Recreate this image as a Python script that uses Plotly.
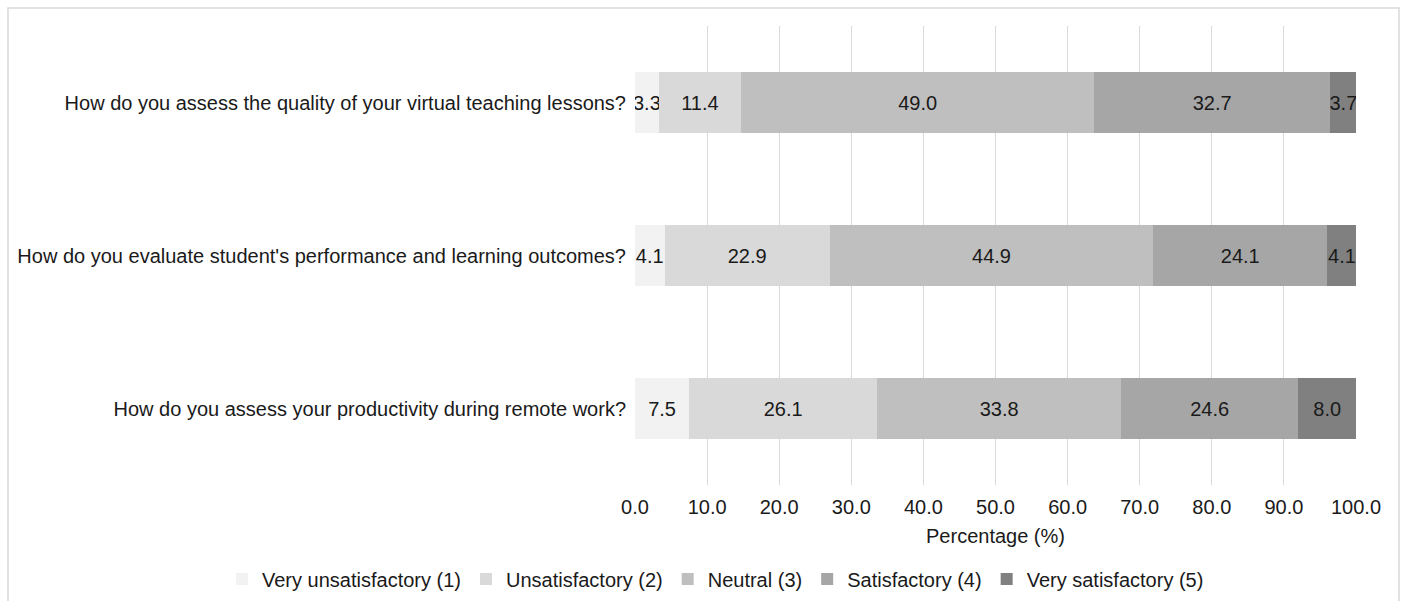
import plotly.graph_objects as go

questions = [
    "How do you assess the quality of your virtual teaching lessons?",
    "How do you evaluate student's performance and learning outcomes?",
    "How do you assess your productivity during remote work?",
]
series_names = [
    "Very unsatisfactory (1)",
    "Unsatisfactory (2)",
    "Neutral (3)",
    "Satisfactory (4)",
    "Very satisfactory (5)",
]
very_unsat = [3.3, 4.1, 7.5]
unsat = [11.4, 22.9, 26.1]
neutral = [49.0, 44.9, 33.8]
sat = [32.7, 24.1, 24.6]
very_sat = [3.7, 4.1, 8.0]
series_values = [very_unsat, unsat, neutral, sat, very_sat]
colors = ["#f2f2f2", "#d9d9d9", "#bfbfbf", "#a6a6a6", "#808080"]
x_ticks = [0, 10, 20, 30, 40, 50, 60, 70, 80, 90, 100]

FONT = "Liberation Sans, Arial, sans-serif"
FS = 20
TXT = "#1a1a1a"

fig = go.Figure()
for name, vals, col in zip(series_names, series_values, colors):
    fig.add_trace(go.Bar(
        y=questions, x=vals, name=name, orientation="h",
        marker=dict(color=col, line=dict(width=0)),
        text=[f"{v:.1f}" for v in vals],
        textposition="inside", insidetextanchor="middle",
        textangle=0,
        textfont=dict(family=FONT, size=FS, color=TXT),
        constraintext="none",
    ))

W, H = 1404, 601
L, R, T, B = 635, 48, 26, 116
pw, ph = W - L - R, H - T - B

def px_x(p):
    return (p - L) / pw

def px_y(p):
    return (H - B - p) / ph

fig.update_layout(
    barmode="stack",
    width=W, height=H,
    margin=dict(l=L, r=R, t=T, b=B, pad=0, autoexpand=False),
    paper_bgcolor="white", plot_bgcolor="white",
    font=dict(family=FONT, size=FS, color=TXT),
    bargap=0.6,
    uniformtext=dict(minsize=FS, mode="show"),
    showlegend=True,
    legend=dict(
        orientation="h",
        x=px_x(222), xanchor="left",
        y=px_y(579), yanchor="middle",
        font=dict(family=FONT, size=FS, color=TXT),
        itemwidth=30, traceorder="normal",
        bgcolor="rgba(0,0,0,0)",
    ),
    xaxis=dict(
        range=[0, 100], tickvals=x_ticks, tickformat=".1f",
        showgrid=True, gridcolor="#d9d9d9", gridwidth=1,
        zeroline=False, showline=False, ticks="", automargin=False,
        ticklabelstandoff=8,
        tickfont=dict(family=FONT, size=FS, color=TXT),
        title=dict(text="Percentage (%)", standoff=11,
                   font=dict(family=FONT, size=FS, color=TXT)),
        fixedrange=True,
    ),
    yaxis=dict(
        categoryorder="array", categoryarray=questions[::-1],
        showgrid=False, zeroline=False, showline=False, ticks="",
        ticklabelstandoff=8, automargin=False,
        tickfont=dict(family=FONT, size=FS, color=TXT),
        fixedrange=True,
    ),
    shapes=[dict(
        type="rect", xref="paper", yref="paper",
        x0=px_x(8), x1=px_x(1399), y0=px_y(640), y1=px_y(8),
        line=dict(color="#d9d9d9", width=1.5), fillcolor="rgba(0,0,0,0)",
        layer="below",
    )],
)

fig.write_html("out.html")
